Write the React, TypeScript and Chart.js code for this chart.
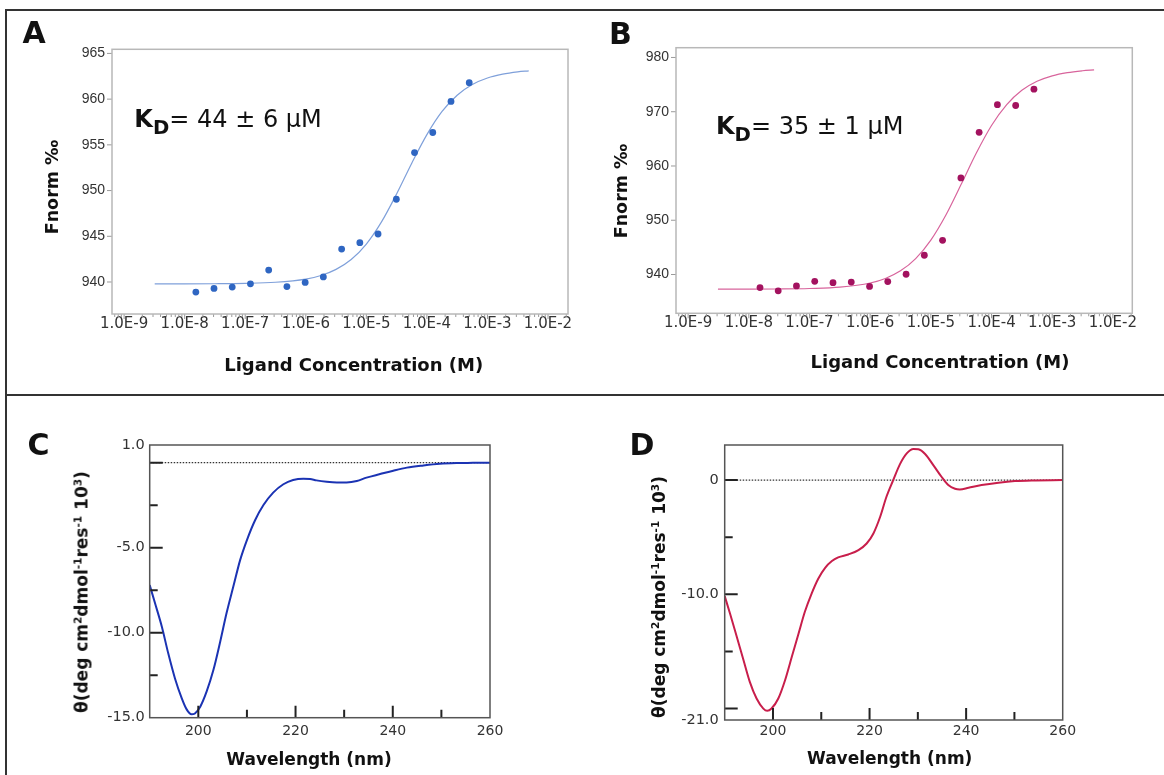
import React, { useEffect, useRef } from 'react';
import { Chart, registerables } from 'chart.js';

Chart.register(...registerables);

// ---------------- Panels A / B : MST binding data ----------------
const ligandConc = [1.53e-8, 3.05e-8, 6.1e-8, 1.22e-7, 2.44e-7, 4.88e-7, 9.77e-7, 1.95e-6, 3.91e-6, 7.81e-6, 1.56e-5, 3.13e-5, 6.25e-5, 1.25e-4, 2.5e-4, 5.0e-4];
const fnormA = [938.9, 939.3, 939.45, 939.8, 941.3, 939.5, 939.95, 940.55, 943.6, 944.3, 945.25, 949.05, 954.15, 956.35, 959.75, 961.8];
const fnormB = [937.6, 937.0, 937.9, 938.75, 938.5, 938.6, 937.8, 938.7, 940.05, 943.55, 946.3, 957.8, 966.2, 971.3, 971.15, 974.15];

const fitConcA = [3.2e-9, 1e-8, 3.16e-8, 1e-7, 3.16e-7, 1e-6, 1.78e-6, 3.16e-6, 5.62e-6, 1e-5, 1.78e-5, 3.16e-5, 5.62e-5, 1e-4, 1.78e-4, 3.16e-4, 5.62e-4, 1e-3, 1.78e-3, 3.16e-3, 4.8e-3];
const fitFnormA = [939.8, 939.8, 939.81, 939.85, 939.97, 940.32, 940.71, 941.38, 942.46, 944.15, 946.57, 949.63, 952.99, 956.12, 958.65, 960.43, 961.6, 962.31, 962.73, 962.98, 963.09];
const fitConcB = [3.1e-9, 1e-8, 3.16e-8, 1e-7, 3.16e-7, 1e-6, 1.78e-6, 3.16e-6, 5.62e-6, 1e-5, 1.78e-5, 3.16e-5, 5.62e-5, 1e-4, 1.78e-4, 3.16e-4, 5.62e-4, 1e-3, 1.78e-3, 3.16e-3, 4.9e-3];
const fitFnormB = [937.3, 937.3, 937.33, 937.42, 937.66, 938.43, 939.27, 940.67, 942.94, 946.35, 951.02, 956.62, 962.39, 967.46, 971.31, 973.95, 975.61, 976.62, 977.21, 977.55, 977.72];

const concTickValues = [1e-9, 1e-8, 1e-7, 1e-6, 1e-5, 1e-4, 1e-3, 1e-2];
const concTickLabels = ['1.0E-9', '1.0E-8', '1.0E-7', '1.0E-6', '1.0E-5', '1.0E-4', '1.0E-3', '1.0E-2'];
const fnormTicksA = [940, 945, 950, 955, 960, 965];
const fnormTickLabelsA = ['940', '945', '950', '955', '960', '965'];
const fnormTicksB = [940, 950, 960, 970, 980];
const fnormTickLabelsB = ['940', '950', '960', '970', '980'];

// ---------------- Panels C / D : CD spectra ----------------
const wavelengthC = [190, 191.1, 192.5, 193.8, 195.2, 196.6, 197.6, 198.6, 199.3, 200.4, 201.7, 203.1, 204.5, 205.8, 207.2, 208.6, 210, 211.7, 213.4, 215.4, 217.5, 219.5, 221.6, 223, 224.3, 226.4, 228.5, 230.5, 232.6, 234.6, 237.4, 240.1, 242.9, 246.3, 249.7, 253.1, 256.5, 260];
const thetaC = [-7.2, -8.27, -9.65, -11.2, -12.69, -13.86, -14.51, -14.8, -14.75, -14.35, -13.47, -12.2, -10.53, -8.86, -7.29, -5.73, -4.55, -3.37, -2.49, -1.76, -1.27, -1.02, -0.94, -0.96, -1.04, -1.12, -1.16, -1.16, -1.08, -0.88, -0.67, -0.47, -0.29, -0.16, -0.06, -0.02, -0.01, 0];
const wavelengthD = [190, 191.1, 192.5, 193.9, 195.2, 196.6, 198, 198.8, 199.7, 201.1, 202.5, 203.9, 205.3, 206.6, 208, 209.4, 210.8, 212.2, 213.5, 215.6, 217.7, 219.4, 220.8, 222.2, 223.5, 224.9, 226.3, 227.7, 229.1, 230.1, 231.5, 233.2, 234.9, 236.3, 237.7, 238.7, 240.5, 243.2, 246.7, 250.1, 253.6, 260];
const thetaD = [-10.16, -11.68, -13.72, -15.77, -17.66, -19.12, -20.0, -20.2, -20.0, -19.12, -17.52, -15.47, -13.43, -11.53, -9.93, -8.61, -7.68, -7.09, -6.77, -6.51, -6.13, -5.55, -4.67, -3.21, -1.46, 0, 1.4, 2.34, 2.72, 2.69, 2.28, 1.31, 0.29, -0.44, -0.76, -0.82, -0.67, -0.44, -0.23, -0.09, -0.03, 0];
const baselineWavelength = [190, 260];
const baselineTheta = [0, 0];

const wlTickValues = [200, 220, 240, 260];
const wlTickLabels = ['200', '220', '240', '260'];
const wlMajorMarks = [200, 220, 240];
const wlMinorMarks = [210, 230, 250];
const thetaCLabelValues = [1.0, -5.0, -10.0, -15.0];
const thetaCLabels = ['1.0', '-5.0', '-10.0', '-15.0'];
const thetaCMajorMarks = [0, -5, -10];
const thetaCMinorMarks = [-2.5, -7.5, -12.5];
const thetaDLabelValues = [0, -10, -21];
const thetaDLabels = ['0', '-10.0', '-21.0'];
const thetaDMajorMarks = [0, -10, -20];
const thetaDMinorMarks = [-5, -15];

// ---------------- helpers ----------------
const FONT = '"DejaVu Sans", sans-serif';

type AxisSpec = {
  labelValues: number[];
  labels: string[];
  major: number[];
  minor: number[];
  majorLen: number;
  minorLen: number;
};

function buildTicks(spec: AxisSpec) {
  const map = new Map<number, any>();
  const get = (v: number) => {
    if (!map.has(v)) map.set(v, { value: v, lbl: '', len: 0 });
    return map.get(v);
  };
  spec.labelValues.forEach((v, i) => { get(v).lbl = spec.labels[i]; });
  spec.major.forEach((v) => { get(v).len = spec.majorLen; });
  spec.minor.forEach((v) => { const t = get(v); if (!t.len) t.len = spec.minorLen; });
  return Array.from(map.values()).sort((a, b) => a.value - b.value);
}

function logMinorTicks(min: number, max: number) {
  const out: number[] = [];
  for (let e = -10; e <= -2; e++) {
    for (let k = 2; k <= 9; k++) {
      const v = k * Math.pow(10, e);
      if (v > min && v < max) out.push(v);
    }
  }
  return out;
}

const frameTicks = {
  id: 'frameTicks',
  afterDatasetsDraw(chart: any, _args: any, opts: any) {
    const { ctx, chartArea: a } = chart;
    ctx.save();
    ctx.lineCap = 'butt';
    ['x', 'y'].forEach((id) => {
      const s = chart.scales[id];
      ctx.strokeStyle = opts.tickColor;
      ctx.lineWidth = opts.tickWidth;
      ctx.beginPath();
      s.ticks.forEach((t: any) => {
        if (!t.len) return;
        const p = s.getPixelForValue(t.value);
        if (id === 'x') {
          const d = opts.inward ? -1 : 1;
          ctx.moveTo(p, a.bottom);
          ctx.lineTo(p, a.bottom + d * t.len);
        } else {
          const d = opts.inward ? 1 : -1;
          ctx.moveTo(a.left, p);
          ctx.lineTo(a.left + d * t.len, p);
        }
      });
      ctx.stroke();
    });
    ctx.strokeStyle = opts.frameColor;
    ctx.lineWidth = opts.frameWidth;
    ctx.strokeRect(a.left, a.top, a.right - a.left, a.bottom - a.top);
    ctx.restore();
  },
};

function axis(opts: {
  type: string; min: number; max: number; spec: AxisSpec; size: number; vertical: boolean;
  fontFamily: string; fontSize: number; padding: number;
}) {
  return {
    type: opts.type,
    min: opts.min,
    max: opts.max,
    afterBuildTicks: (s: any) => { s.ticks = buildTicks(opts.spec); },
    afterFit: (s: any) => { if (opts.vertical) s.width = opts.size; else s.height = opts.size; },
    grid: { display: false, drawTicks: false, tickLength: 0 },
    border: { display: false },
    ticks: {
      autoSkip: false,
      maxRotation: 0,
      minRotation: 0,
      padding: opts.padding,
      color: '#333',
      font: { family: opts.fontFamily, size: opts.fontSize },
      callback: (_v: any, i: number, ticks: any[]) => ticks[i].lbl,
    },
  };
}

const pts = (xs: number[], ys: number[]) => xs.map((x, i) => ({ x, y: ys[i] }));

function bindingConfig(p: {
  conc: number[]; fnorm: number[]; fitConc: number[]; fitFnorm: number[];
  dotColor: string; lineColor: string; xMin: number; xMax: number; yMin: number; yMax: number;
  yTicks: number[]; yLabels: string[]; yWidth: number; xHeight: number; pad: any;
}) {
  return {
    type: 'scatter',
    data: {
      datasets: [
        { data: pts(p.conc, p.fnorm), pointRadius: 3.4, pointBackgroundColor: p.dotColor, pointBorderWidth: 0, showLine: false },
        { data: pts(p.fitConc, p.fitFnorm), showLine: true, pointRadius: 0, borderColor: p.lineColor, borderWidth: 1.2, cubicInterpolationMode: 'monotone', fill: false },
      ],
    },
    options: {
      responsive: false,
      animation: false,
      devicePixelRatio: 1,
      events: [],
      layout: { padding: p.pad },
      plugins: {
        legend: { display: false },
        tooltip: { enabled: false },
        frameTicks: { inward: false, tickColor: '#9a9a9a', tickWidth: 1, frameColor: '#b8b8b8', frameWidth: 1.5 },
      },
      scales: {
        x: axis({
          type: 'logarithmic', min: p.xMin, max: p.xMax, vertical: false, size: p.xHeight,
          spec: { labelValues: concTickValues, labels: concTickLabels, major: concTickValues, minor: logMinorTicks(p.xMin, p.xMax), majorLen: 5, minorLen: 3 },
          fontFamily: FONT, fontSize: 15, padding: 1,
        }),
        y: axis({
          type: 'linear', min: p.yMin, max: p.yMax, vertical: true, size: p.yWidth,
          spec: { labelValues: p.yTicks, labels: p.yLabels, major: p.yTicks, minor: [], majorLen: 5, minorLen: 0 },
          fontFamily: '"Liberation Sans", Arial, sans-serif', fontSize: 14, padding: 7,
        }),
      },
    },
    plugins: [frameTicks],
  };
}

function cdConfig(p: {
  wl: number[]; theta: number[]; color: string; yMin: number; yMax: number;
  yLabelValues: number[]; yLabels: string[]; yMajor: number[]; yMinor: number[];
  yWidth: number; xHeight: number; pad: any; yPad: number; xPad: number;
}) {
  return {
    type: 'scatter',
    data: {
      datasets: [
        { data: pts(p.wl, p.theta), showLine: true, pointRadius: 0, borderColor: p.color, borderWidth: 2, cubicInterpolationMode: 'monotone', fill: false },
        { data: pts(baselineWavelength, baselineTheta), showLine: true, pointRadius: 0, borderColor: '#333', borderWidth: 1.3, borderDash: [1.5, 1.5], fill: false },
      ],
    },
    options: {
      responsive: false,
      animation: false,
      devicePixelRatio: 1,
      events: [],
      layout: { padding: p.pad },
      plugins: {
        legend: { display: false },
        tooltip: { enabled: false },
        frameTicks: { inward: true, tickColor: '#222', tickWidth: 2, frameColor: '#555', frameWidth: 1.5 },
      },
      scales: {
        x: axis({
          type: 'linear', min: 190, max: 260, vertical: false, size: p.xHeight,
          spec: { labelValues: wlTickValues, labels: wlTickLabels, major: wlMajorMarks, minor: wlMinorMarks, majorLen: 12, minorLen: 8 },
          fontFamily: FONT, fontSize: 14, padding: p.xPad,
        }),
        y: axis({
          type: 'linear', min: p.yMin, max: p.yMax, vertical: true, size: p.yWidth,
          spec: { labelValues: p.yLabelValues, labels: p.yLabels, major: p.yMajor, minor: p.yMinor, majorLen: 13, minorLen: 8 },
          fontFamily: FONT, fontSize: 14.5, padding: p.yPad,
        }),
      },
    },
    plugins: [frameTicks],
  };
}

function ChartPanel({ x, y, w, h, config }: { x: number; y: number; w: number; h: number; config: () => any }) {
  const ref = useRef<HTMLCanvasElement>(null);
  useEffect(() => {
    const chart = new Chart(ref.current as HTMLCanvasElement, config());
    return () => chart.destroy();
  }, []);
  return (
    <canvas
      ref={ref}
      width={w}
      height={h}
      style={{ position: 'absolute', left: x, top: y, width: w, height: h }}
    />
  );
}

const DEJAVU_BASE = 0.847;

function BaseText({ x, baseline, size, bold, children }: any) {
  return (
    <div
      style={{
        position: 'absolute', left: x, top: baseline - DEJAVU_BASE * size, fontSize: size,
        lineHeight: 1, fontWeight: bold ? 'bold' : 'normal', whiteSpace: 'nowrap', color: '#111', fontFamily: FONT,
      }}
    >
      {children}
    </div>
  );
}

function CenterText({ cx, cy, size, rotate, children }: any) {
  return (
    <div
      style={{
        position: 'absolute', left: cx, top: cy, fontSize: size, lineHeight: 1, fontWeight: 'bold',
        whiteSpace: 'nowrap', color: '#111', fontFamily: FONT,
        transform: `translate(-50%, -50%)${rotate ? ' rotate(-90deg)' : ''}`,
      }}
    >
      {children}
    </div>
  );
}

const supStyle: React.CSSProperties = { fontSize: '0.62em', verticalAlign: '0.55em', lineHeight: 0 };

function KdLabel({ x, baseline, value }: { x: number; baseline: number; value: string }) {
  return (
    <BaseText x={x} baseline={baseline} size={24}>
      <span style={{ fontWeight: 'bold' }}>K<span style={{ fontSize: '0.82em', verticalAlign: '-7px', lineHeight: 0 }}>D</span></span>
      {value}
    </BaseText>
  );
}

function CdTitle({ cx, cy }: { cx: number; cy: number }) {
  return (
    <CenterText cx={cx} cy={cy} size={17} rotate>
      θ(deg cm<span style={supStyle}>2</span>dmol<span style={supStyle}>-1</span>res<span style={supStyle}>-1</span> 10<span style={supStyle}>3</span>)
    </CenterText>
  );
}

export default function App() {
  const line = (l: number, t: number, w: number, h: number) => (
    <div style={{ position: 'absolute', left: l, top: t, width: w, height: h, background: '#333' }} />
  );
  return (
    <div style={{ position: 'absolute', left: 0, top: 0, width: 1164, height: 775, background: '#fff', overflow: 'hidden' }}>
      {line(5, 9, 1159, 2)}
      {line(5, 9, 2, 766)}
      {line(5, 394, 1159, 2)}

      <ChartPanel x={20} y={31} w={570} h={354} config={() => bindingConfig({
        conc: ligandConc, fnorm: fnormA, fitConc: fitConcA, fitFnorm: fitFnormA,
        dotColor: '#2f66c2', lineColor: '#7fa0da',
        xMin: Math.pow(10, -9.2), xMax: Math.pow(10, -1.67), yMin: 936.5, yMax: 965.45,
        yTicks: fnormTicksA, yLabels: fnormTickLabelsA, yWidth: 92, xHeight: 71,
        pad: { left: 0, top: 18.3, right: 22, bottom: 0 },
      })} />
      <ChartPanel x={590} y={30} w={570} h={355} config={() => bindingConfig({
        conc: ligandConc, fnorm: fnormB, fitConc: fitConcB, fitFnorm: fitFnormB,
        dotColor: '#a3125f', lineColor: '#d8649c',
        xMin: Math.pow(10, -9.2), xMax: Math.pow(10, -1.68), yMin: 932.85, yMax: 981.8,
        yTicks: fnormTicksB, yLabels: fnormTickLabelsB, yWidth: 86, xHeight: 71.7,
        pad: { left: 0, top: 17.7, right: 27.7, bottom: 0 },
      })} />
      <ChartPanel x={20} y={425} w={560} h={350} config={() => cdConfig({
        wl: wavelengthC, theta: thetaC, color: '#1b33b3', yMin: -15, yMax: 1.04,
        yLabelValues: thetaCLabelValues, yLabels: thetaCLabels, yMajor: thetaCMajorMarks, yMinor: thetaCMinorMarks,
        yWidth: 129.7, xHeight: 57.3, pad: { left: 0, top: 20, right: 90, bottom: 0 }, yPad: 5, xPad: 5,
      })} />
      <ChartPanel x={600} y={425} w={560} h={350} config={() => cdConfig({
        wl: wavelengthD, theta: thetaD, color: '#c81e4b', yMin: -21, yMax: 3.07,
        yLabelValues: thetaDLabelValues, yLabels: thetaDLabels, yMajor: thetaDMajorMarks, yMinor: thetaDMinorMarks,
        yWidth: 124.7, xHeight: 55, pad: { left: 0, top: 20, right: 97.3, bottom: 0 }, yPad: 6, xPad: 3,
      })} />

      <BaseText x={22.5} baseline={43.5} size={30} bold>A</BaseText>
      <BaseText x={609} baseline={44} size={30} bold>B</BaseText>
      <BaseText x={27.5} baseline={455} size={30} bold>C</BaseText>
      <BaseText x={629.5} baseline={455} size={30} bold>D</BaseText>

      <KdLabel x={134.3} baseline={127.5} value="= 44 ± 6 μM" />
      <KdLabel x={716} baseline={134.5} value="= 35 ± 1 μM" />

      <CenterText cx={53} cy={187} size={17.5} rotate>Fnorm ‰</CenterText>
      <CenterText cx={621.5} cy={191} size={17.5} rotate>Fnorm ‰</CenterText>
      <CenterText cx={353.7} cy={365} size={18}>Ligand Concentration (M)</CenterText>
      <CenterText cx={940} cy={362} size={18}>Ligand Concentration (M)</CenterText>

      <CdTitle cx={82} cy={591.5} />
      <CdTitle cx={658.7} cy={596.5} />
      <CenterText cx={309} cy={759} size={17}>Wavelength (nm)</CenterText>
      <CenterText cx={889.7} cy={758} size={17}>Wavelength (nm)</CenterText>
    </div>
  );
}
